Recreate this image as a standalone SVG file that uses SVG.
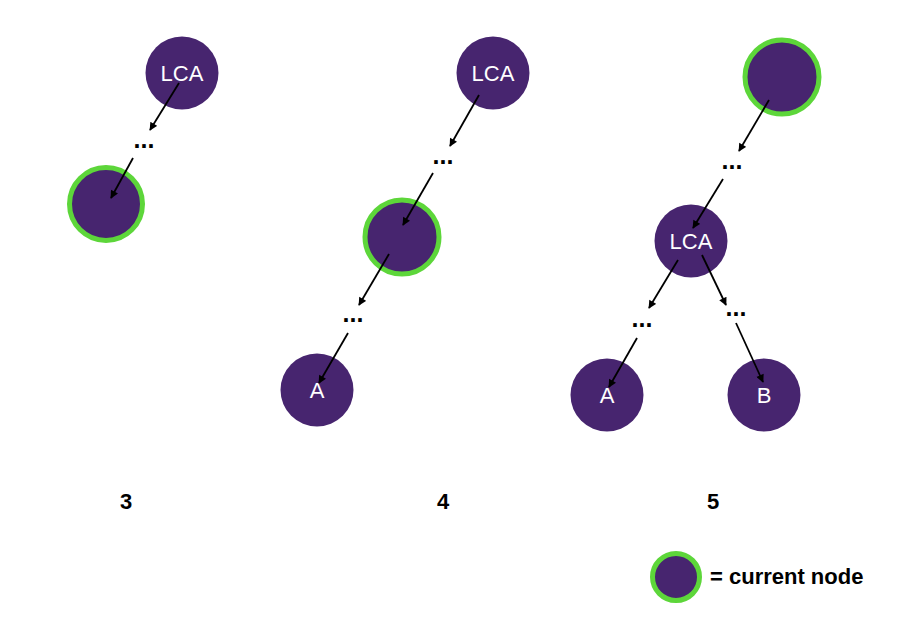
<svg xmlns="http://www.w3.org/2000/svg" width="920" height="620" viewBox="0 0 920 620">
<style>
.n{fill:#47256F}
.cur{fill:#47256F;stroke:#5DD63A;stroke-width:5}
.t{font-family:"Liberation Sans",Arial,sans-serif;font-size:22px;fill:#fff;text-anchor:middle}
.d{font-family:"Liberation Sans",Arial,sans-serif;font-size:25px;font-weight:bold;fill:#000;text-anchor:middle}
.lbl{font-family:"Liberation Sans",Arial,sans-serif;font-size:22px;font-weight:bold;fill:#000;text-anchor:middle}
.e{stroke:#000;stroke-width:1.8;fill:none;marker-end:url(#ah)}
</style>
<defs>
<marker id="ah" viewBox="0 0 10 10" refX="9" refY="5" markerWidth="9" markerHeight="8" markerUnits="userSpaceOnUse" orient="auto">
<path d="M0,0 L10,5 L0,10 z" fill="#000"/>
</marker>
</defs>
<rect width="920" height="620" fill="#fff"/>

<!-- panel 3 -->
<g id="p3-lca"><circle class="n" cx="182" cy="73" r="36.5"/><text class="t" x="182" y="81">LCA</text></g>
<g id="p3-dots"><text class="d" x="144" y="148">...</text></g>
<g id="p3-cur"><circle class="cur" cx="106" cy="204" r="36.5"/></g>

<!-- panel 4 -->
<g id="p4-lca"><circle class="n" cx="493" cy="73" r="36.5"/><text class="t" x="493" y="81">LCA</text></g>
<g id="p4-dots1"><text class="d" x="443" y="164">...</text></g>
<g id="p4-cur"><circle class="cur" cx="402" cy="237" r="37"/></g>
<g id="p4-dots2"><text class="d" x="353" y="322">...</text></g>
<g id="p4-a"><circle class="n" cx="317" cy="390" r="36.5"/><text class="t" x="317" y="398">A</text></g>

<!-- panel 5 -->
<g id="p5-cur"><circle class="cur" cx="782" cy="77" r="37"/></g>
<g id="p5-dots1"><text class="d" x="732" y="169">...</text></g>
<g id="p5-lca"><circle class="n" cx="691" cy="241" r="36.5"/><text class="t" x="691" y="249">LCA</text></g>
<g id="p5-dots2"><text class="d" x="642" y="327">...</text></g>
<g id="p5-dots3"><text class="d" x="736" y="316">...</text></g>
<g id="p5-a"><circle class="n" cx="607" cy="395" r="36.5"/><text class="t" x="607" y="403">A</text></g>
<g id="p5-b"><circle class="n" cx="764" cy="395" r="36.5"/><text class="t" x="764" y="403">B</text></g>

<!-- labels -->
<g id="labels">
<text class="lbl" x="126" y="509">3</text>
<text class="lbl" x="443" y="509">4</text>
<text class="lbl" x="713" y="509">5</text>
</g>

<!-- legend -->
<g id="legend">
<circle class="cur" cx="676" cy="577" r="23.5"/>
<text x="710" y="584" style="font-family:'Liberation Sans',Arial,sans-serif;font-size:22px;font-weight:bold;fill:#000">= current node</text>
</g>

<g id="connectors">
<line class="e" x1="179" y1="83" x2="150" y2="130"/>
<line class="e" x1="133" y1="158" x2="111" y2="198"/>
<line class="e" x1="479" y1="95" x2="450" y2="146"/>
<line class="e" x1="433" y1="173" x2="403" y2="225"/>
<line class="e" x1="389" y1="254" x2="359" y2="305"/>
<line class="e" x1="348" y1="333" x2="319" y2="383"/>
<line class="e" x1="769" y1="100" x2="739" y2="151"/>
<line class="e" x1="723" y1="179" x2="693" y2="228"/>
<line class="e" x1="678" y1="260" x2="649" y2="308"/>
<line class="e" x1="702" y1="255" x2="726" y2="305"/>
<line class="e" x1="637" y1="338" x2="609" y2="387"/>
<line class="e" x1="736" y1="323" x2="763" y2="382"/>
</g>
</svg>
